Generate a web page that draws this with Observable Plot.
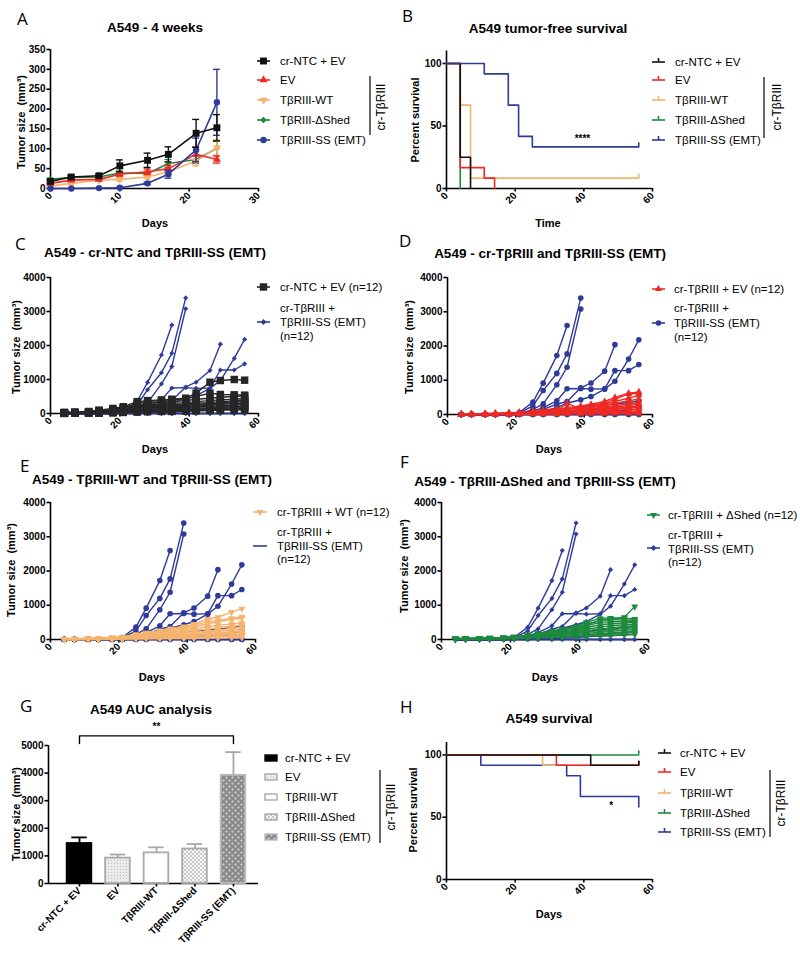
<!DOCTYPE html>
<html><head><meta charset="utf-8">
<script src="https://cdn.jsdelivr.net/npm/d3@7"></script>
<script src="https://cdn.jsdelivr.net/npm/@observablehq/plot@0.6"></script>
<style>
html,body{margin:0;padding:0;background:#fff;}
#page{position:relative;width:800px;height:956px;overflow:hidden;background:#fff;}
#page svg{position:absolute;}
</style></head><body><div id="page"></div>
<script>
// ================= DATA =================
const groupNames = ["cr-NTC + EV","EV","TβRIII-WT","TβRIII-ΔShed","TβRIII-SS (EMT)"];

// Panel A: mean tumor size (mm3) +/- SEM, first 4 weeks
const daysA   = [0,3,7,10,14,17,21,24];
const aNTC    = [18,29,32,57,71,86,139,153];
const aNTCsem = [4,4,4,15,18,19,35,33];
const aEV     = [13,21,23,36,42,50,86,73];
const aEVsem  = [3,3,3,5,7,8,18,9];
const aWT     = [6,13,21,23,29,42,69,103];
const aWTsem  = [2,3,3,4,5,6,12,20];
const aSH     = [23,28,29,39,38,63,73,101];
const aSHsem  = [3,3,3,5,5,10,10,18];
const aSS     = [0,0,1,2,13,36,97,217];
const aSSsem  = [0,0,0,1,3,10,30,83];

// Panel B: tumor-free survival (time, percent)
const bNTC_t = [0,4,7],            bNTC_s = [100,25,0];
const bEV_t  = [0,4,11,14],        bEV_s  = [100,16.7,8.3,0];
const bWT_t  = [0,4,7,56],         bWT_s  = [100,66.7,8.3,8.3];
const bSH_t  = [0,4],              bSH_s  = [100,0];
const bSS_t  = [0,11,18,21,25,56], bSS_s  = [100,91.7,66.7,41.7,33.3,33.3];
const bSig   = {t:39.6, s:40, label:"****"};

// Panels C-F: individual tumor volumes (mm3) per mouse
const daysI = [4,7,11,14,18,21,25,28,32,35,39,42,46,49,53,56];
const miceSS = [
  [0,0,0,0,10,60,360,915,1720,2600],
  [0,0,0,0,10,40,250,700,1200,1770,3400],
  [0,0,0,0,0,20,150,310,870,1380,3080],
  [0,0,0,0,10,30,100,200,400,750,760,740,750,1280,1280,1460],
  [0,0,0,0,0,20,60,150,300,380,780,920,1265,2040],
  [0,0,0,0,0,10,40,100,200,330,430,525,740,970,1620,2180],
  [0,0,0,0,0,10,30,60,100,150,200,230,280,300,350,390],
  [0,0,0,0,0,0,10,30,50,70,100,120,150,180,200,230],
  [0,0,0,0,0,0,0,10,20,40,60,80,100,110,130,150],
  [0,0,0,0,0,0,0,0,0,0,0,0,0,0,0,0],
  [0,0,0,0,0,0,0,0,0,0,0,0,0,0,0,0],
  [0,0,0]
];
const miceNTC = [
  [30,40,60,100,150,200,350,380,400,420,450,600,920,970,1000,980],
  [30,30,50,80,120,170,300,350,380,400,430,500,600,560,550,540],
  [20,30,40,70,100,150,250,300,330,350,380,420,450,480,500,520],
  [20,30,40,60,90,130,220,250,280,300,320,350,380,400,420,440],
  [20,20,30,50,80,120,200,220,240,260,280,300,320,350,370,400],
  [20,20,30,40,70,100,180,200,220,230,250,270,290,310,330,350],
  [10,20,20,30,60,90,150,170,190,200,210,230,250,270,290,300],
  [10,10,20,30,50,80,130,150,160,170,180,190,210,230,250,260],
  [10,10,20,20,40,60,100,120,130,140,150,160,170,190,200,210],
  [10,10,10,20,30,50,80,90,100,110,120,130,140,150,160,170],
  [10,10,10,20,30,40,60,70,80,80,90,100,110,120,130,140],
  [0,10,10,10,20,30,40,50,60,60,70,80,90,100,100,110]
];
const miceEV = [
  [10,20,30,40,50,60,100,130,160,200,250,300,380,500,620,660],
  [10,20,20,30,40,60,90,110,140,170,220,270,330,450,600,620],
  [10,10,20,30,40,50,80,100,120,150,200,250,300,380,480,560],
  [10,10,20,20,30,40,70,90,110,330,150,200,260,320,400,450],
  [10,10,10,20,30,40,60,80,100,120,150,180,220,260,300,350],
  [0,10,10,20,20,30,50,70,80,100,130,160,190,220,260,300],
  [0,10,10,10,20,30,40,60,70,90,110,130,160,180,220,250],
  [0,0,10,10,20,20,30,50,60,70,90,110,130,150,180,200],
  [0,0,10,10,10,20,30,40,50,60,70,80,100,120,140,150],
  [0,0,0,10,10,20,20,30,40,50,50,60,70,80,90,100],
  [0,0,0,0,10,10,20,20,30,30,40,40,50,50,60,60],
  [0,0,0,0,0,0,10,10,10,20,20,20,20,30,30,30]
];
const miceWT = [
  [10,20,30,40,60,80,150,200,260,320,380,450,600,650,800,900],
  [10,20,30,40,50,70,130,180,230,280,350,420,520,560,620,660],
  [10,10,20,30,50,70,120,160,200,250,300,380,460,520,580,620],
  [10,10,20,30,40,60,100,140,180,220,260,320,380,420,450,480],
  [10,10,20,30,40,50,90,120,150,190,230,270,310,350,380,420],
  [0,10,10,20,30,40,80,100,130,160,190,220,250,280,320,360],
  [0,10,10,20,30,40,70,90,110,130,150,180,210,240,270,300],
  [0,0,10,10,20,30,60,70,90,110,130,150,170,190,220,250],
  [0,0,10,10,20,30,50,60,70,90,100,120,140,160,180,200],
  [0,0,0,10,10,20,40,50,60,70,80,90,100,120,130,150],
  [0,0,0,0,10,10,30,30,40,50,50,60,70,80,90,100],
  [0,0,0,0,0,10,10,20,20,30,30,30,40,40,50,50]
];
const miceSH = [
  [30,30,40,50,60,80,120,180,250,300,350,450,550,600,650,960],
  [30,30,40,50,60,80,120,170,230,300,380,500,620,630,620,600],
  [20,30,30,40,50,70,110,150,210,280,340,430,560,580,570,560],
  [20,30,30,40,50,70,100,140,190,250,300,400,500,520,530,520],
  [20,20,30,40,50,60,90,130,170,220,270,350,430,460,480,500],
  [20,20,30,30,40,60,90,120,150,190,240,300,360,400,430,450],
  [20,20,30,30,40,50,80,100,130,170,210,260,310,340,380,400],
  [10,20,20,30,40,50,70,90,120,150,180,220,260,290,320,350],
  [10,20,20,30,30,40,60,80,100,120,150,180,210,240,270,300],
  [10,10,20,20,30,40,60,70,90,100,120,150,170,190,220,250],
  [10,10,20,20,30,30,50,60,70,80,100,120,140,160,180,200],
  [10,10,10,20,20,30,40,50,60,70,80,90,110,120,140,150]
];

// Panel G: AUC mean +/- SEM
const aucMean = [1450,920,1110,1250,3920];
const aucSem  = [220,130,200,180,840];
const aucSigLevel = 5350, aucSigTip = 5070, aucSigText = 5680, aucSigLabel = "**";

// Panel H: overall survival (days, percent)
const hNTC_t = [0,42,56],          hNTC_s = [100,91.7,91.7];
const hEV_t  = [0,32,56],          hEV_s  = [100,91.7,91.7];
const hWT_t  = [0,28,56],          hWT_s  = [100,91.7,91.7];
const hSH_t  = [0,56],             hSH_s  = [100,100];
const hSS_t  = [0,10,35,39,56,56], hSS_s  = [100,91.7,83.3,66.7,66.7,58.3];
const hSig   = {t:48, s:59, label:"*"};

// ================= STYLE =================
const FONT = "'Liberation Sans', Arial, Helvetica, sans-serif";
const COL = {ntc:"#111111", ev:"#ee2a24", wt:"#f5b36d", sh:"#1d8a3e", ss:"#2f3b98"};
const triDown = {draw(ctx,size){const y=Math.sqrt(size/(Math.sqrt(3)*3));ctx.moveTo(0,2*y);ctx.lineTo(-Math.sqrt(3)*y,-y);ctx.lineTo(Math.sqrt(3)*y,-y);ctx.closePath();}};
const plain = d => String(d);

const page = document.getElementById("page");

// hidden defs for patterns
const defsSvg = d3.select(page).append("svg").attr("width",0).attr("height",0).style("left","0px").style("top","0px");
const defs = defsSvg.append("defs");
{
  const p1 = defs.append("pattern").attr("id","patEV").attr("width",3).attr("height",3).attr("patternUnits","userSpaceOnUse");
  p1.append("rect").attr("width",3).attr("height",3).attr("fill","#ebebeb");
  p1.append("rect").attr("width",1).attr("height",1).attr("fill","#bdbdbd");
  const p2 = defs.append("pattern").attr("id","patSH").attr("width",4).attr("height",4).attr("patternUnits","userSpaceOnUse");
  p2.append("rect").attr("width",4).attr("height",4).attr("fill","#f6f6f6");
  p2.append("rect").attr("width",2).attr("height",2).attr("fill","#c9c9c9");
  p2.append("rect").attr("x",2).attr("y",2).attr("width",2).attr("height",2).attr("fill","#c9c9c9");
  const p3 = defs.append("pattern").attr("id","patSS").attr("width",6).attr("height",6).attr("patternUnits","userSpaceOnUse");
  p3.append("rect").attr("width",6).attr("height",6).attr("fill","#8a8a8a");
  p3.append("path").attr("d","M1.5,0L3,1.5L1.5,3L0,1.5Z M4.5,3L6,4.5L4.5,6L3,4.5Z").attr("fill","#c2c2c2");
}

function panel(c){
  const svg = Plot.plot({
    width:c.W, height:c.H,
    marginLeft:c.x0-c.L, marginRight:c.L+c.W-c.x1, marginTop:c.y1-c.T, marginBottom:c.T+c.H-c.y0,
    x:{domain:c.xDomain}, y:{domain:c.yDomain},
    style:{fontFamily:FONT,fontSize:"10px",fontWeight:"bold",background:"transparent",overflow:"visible",color:"#000"},
    marks:[
      Plot.ruleX([c.xDomain[0]],{strokeWidth:1.6}),
      Plot.ruleY([c.yDomain[0]],{strokeWidth:1.6}),
      Plot.axisY({ticks:c.yTicks,tickSize:3.5,tickPadding:1.5,label:null,strokeWidth:1.6,tickFormat:plain}),
      Plot.axisX({ticks:c.xTicks,tickSize:3.5,tickPadding:2,tickRotate:-45,label:null,strokeWidth:1.6,tickFormat:c.xTickFormat||plain}),
      ...c.marks
    ]
  });
  svg.style.position="absolute"; svg.style.left=c.L+"px"; svg.style.top=c.T+"px";
  page.appendChild(svg);
}

// ---------- Panel A ----------
function meanRows(m,s){ return daysA.map((d,i)=>({day:d, v:m[i], lo:m[i]-s[i], hi:m[i]+s[i], s:s[i]})); }
const aGroups = [
  {rows:meanRows(aSH,aSHsem), col:COL.sh, sym:"diamond2", r:2.6},
  {rows:meanRows(aWT,aWTsem), col:COL.wt, sym:triDown, r:3},
  {rows:meanRows(aEV,aEVsem), col:COL.ev, sym:"triangle", r:3},
  {rows:meanRows(aSS,aSSsem), col:COL.ss, sym:"circle", r:3.2},
  {rows:meanRows(aNTC,aNTCsem), col:COL.ntc, sym:"square", r:3.9}
];
panel({L:0,T:40,W:275,H:175,x0:50,x1:258,y0:188,y1:49,xDomain:[0,30],yDomain:[0,350],
  xTicks:[0,10,20,30], yTicks:[0,50,100,150,200,250,300,350],
  marks: aGroups.flatMap(g=>{
    const e = g.rows.filter(d=>d.s>0);
    return [
      Plot.ruleX(e,{x:"day",y1:"lo",y2:"hi",stroke:g.col,strokeWidth:1.4}),
      Plot.ruleY(e,{y:"hi",x1:d=>d.day-0.5,x2:d=>d.day+0.5,stroke:g.col,strokeWidth:1.4}),
      Plot.ruleY(e,{y:"lo",x1:d=>d.day-0.5,x2:d=>d.day+0.5,stroke:g.col,strokeWidth:1.4}),
      Plot.line(g.rows,{x:"day",y:"v",stroke:g.col,strokeWidth:1.6}),
      Plot.dot(g.rows,{x:"day",y:"v",symbol:g.sym,r:g.r,fill:g.col,stroke:"none"})
    ];
  })
});

// ---------- Survival helper ----------
function survRows(t,s){ return t.map((d,i)=>({t:d,s:s[i]})); }
function survMarks(list){
  return list.flatMap(g=>{
    const rows = survRows(g.t,g.s);
    const m = [Plot.line(rows,{x:"t",y:"s",curve:"step-after",stroke:g.col,strokeWidth:1.6})];
    if (g.censor){ const last = rows[rows.length-1]; m.push(Plot.ruleX([last],{x:"t",y1:"s",y2:"s",insetTop:-4,stroke:g.col,strokeWidth:1.6})); }
    return m;
  });
}

// ---------- Panel B ----------
panel({L:400,T:40,W:260,H:175,x0:446,x1:652,y0:188,y1:50.5,xDomain:[0,60],yDomain:[0,110],
  xTicks:[0,20,40,60], yTicks:[0,50,100],
  marks:[
    ...survMarks([
      {t:bSH_t,s:bSH_s,col:COL.sh},
      {t:bWT_t,s:bWT_s,col:COL.wt,censor:true},
      {t:bEV_t,s:bEV_s,col:COL.ev},
      {t:bNTC_t,s:bNTC_s,col:COL.ntc},
      {t:bSS_t,s:bSS_s,col:COL.ss,censor:true}
    ]),
    Plot.text([bSig],{x:"t",y:"s",text:"label",fontSize:10,fontWeight:"bold"})
  ]
});

// ---------- Panels C-F ----------
function mouseRows(mice,key){ return mice.flatMap((vals,m)=>vals.map((v,i)=>({m:key+m, day:daysI[i], v}))); }
function miceMarks(mice,key,col,sym,r){
  const rows = mouseRows(mice,key);
  return [
    Plot.line(rows,{x:"day",y:"v",z:"m",stroke:col,strokeWidth:1.4}),
    Plot.dot(rows,{x:"day",y:"v",symbol:sym,r:r,fill:col,stroke:"none"})
  ];
}
const yT4 = [0,1000,2000,3000,4000], xT6 = [0,20,40,60];
panel({L:0,T:265,W:270,H:175,x0:50,x1:258,y0:413,y1:277,xDomain:[0,60],yDomain:[0,4000],xTicks:xT6,yTicks:yT4,
  marks:[...miceMarks(miceSS,"ss",COL.ss,"diamond2",2.3), ...miceMarks(miceNTC,"ntc","#262626","square",4.2)]});
panel({L:400,T:265,W:260,H:175,x0:447,x1:652,y0:414,y1:277,xDomain:[0,60],yDomain:[0,4000],xTicks:xT6,yTicks:yT4,
  marks:[...miceMarks(miceSS,"ss",COL.ss,"circle",2.8), ...miceMarks(miceEV,"ev",COL.ev,"triangle",2.6)]});
panel({L:0,T:490,W:270,H:175,x0:50,x1:255,y0:639,y1:502,xDomain:[0,60],yDomain:[0,4000],xTicks:xT6,yTicks:yT4,
  marks:[...miceMarks(miceSS,"ss",COL.ss,"circle",2.8), ...miceMarks(miceWT,"wt",COL.wt,triDown,2.6)]});
panel({L:400,T:490,W:260,H:175,x0:441,x1:648,y0:639,y1:502,xDomain:[0,60],yDomain:[0,4000],xTicks:xT6,yTicks:yT4,
  marks:[...miceMarks(miceSS,"ss",COL.ss,"diamond2",2.3), ...miceMarks(miceSH,"sh",COL.sh,triDown,2.6)]});

// ---------- Panel G ----------
const gRows = groupNames.map((n,i)=>({i, n, v:aucMean[i], hi:aucMean[i]+aucSem[i]}));
const barFill   = ["#000000","url(#patEV)","#ffffff","url(#patSH)","url(#patSS)"];
const barStroke = ["#000000","#a8a8a8","#a8a8a8","#a8a8a8","#bcbcbc"];
const errStroke = ["#000000","#a8a8a8","#a8a8a8","#a8a8a8","#a8a8a8"];
const sigRows = [
  {i:0,y:aucSigTip},{i:0,y:aucSigLevel},{i:4,y:aucSigLevel},{i:4,y:aucSigTip}
];
panel({L:0,T:725,W:270,H:231,x0:48,x1:258,y0:883,y1:745,xDomain:[-0.805,4.65],yDomain:[0,5000],
  xTicks:[0,1,2,3,4], yTicks:[0,1000,2000,3000,4000,5000], xTickFormat:i=>groupNames[i],
  marks:[
    ...gRows.flatMap((d,k)=>[
      Plot.ruleX([d],{x:"i",y1:"v",y2:"hi",stroke:errStroke[k],strokeWidth:1.8}),
      Plot.ruleY([d],{y:"hi",x1:e=>e.i-0.2,x2:e=>e.i+0.2,stroke:errStroke[k],strokeWidth:1.8}),
      Plot.rectY([d],{x1:e=>e.i-0.32,x2:e=>e.i+0.32,y:"v",fill:barFill[k],stroke:barStroke[k],strokeWidth:1.8})
    ]),
    Plot.line(sigRows,{x:"i",y:"y",stroke:"#000",strokeWidth:1.4}),
    Plot.text([{i:2,y:aucSigText,label:aucSigLabel}],{x:"i",y:"y",text:"label",fontSize:10,fontWeight:"bold"})
  ]
});

// ---------- Panel H ----------
panel({L:400,T:730,W:260,H:175,x0:446,x1:652,y0:879,y1:742,xDomain:[0,60],yDomain:[0,110],
  xTicks:[0,20,40,60], yTicks:[0,50,100],
  marks:[
    ...survMarks([
      {t:hSH_t,s:hSH_s,col:COL.sh,censor:true},
      {t:hSS_t,s:hSS_s,col:COL.ss},
      {t:hWT_t,s:hWT_s,col:COL.wt,censor:true},
      {t:hEV_t,s:hEV_s,col:COL.ev,censor:true},
      {t:hNTC_t,s:hNTC_s,col:COL.ntc,censor:true}
    ]),
    Plot.text([hSig],{x:"t",y:"s",text:"label",fontSize:10,fontWeight:"bold"})
  ]
});

// ================= OVERLAY TEXT / LEGENDS =================
const ov = d3.select(page).append("svg").attr("width",800).attr("height",956)
  .style("left","0px").style("top","0px").style("font-family",FONT).style("pointer-events","none");

function T(x,y,s,o={}){
  const t = ov.append("text").text(s)
    .attr("font-size",o.size||11.5).attr("font-weight",o.weight||"normal")
    .attr("text-anchor",o.anchor||"start").style("white-space","pre").attr("fill","#000");
  if (o.family) t.attr("font-family",o.family);
  if (o.rot){ t.attr("transform",`translate(${x},${y}) rotate(${o.rot})`).attr("dominant-baseline","central"); }
  else t.attr("x",x).attr("y",y);
  return t;
}
function letter(x,y,s){ T(x,y,s,{size:17,family:"'Open Sans', sans-serif"}); }
function title(x,y,s){ T(x,y,s,{size:13.5,weight:"bold",anchor:"middle"}); }
function ytitle(x,y,s){ T(x,y,s,{size:11,weight:"bold",anchor:"middle",rot:-90}); }
function xtitle(x,y,s){ T(x,y,s,{size:11,weight:"bold",anchor:"middle"}); }
function legItem(x1,x2,y,col,sym,r,censor){
  ov.append("line").attr("x1",x1).attr("x2",x2).attr("y1",y).attr("y2",y).attr("stroke",col).attr("stroke-width",1.6);
  const cx=(x1+x2)/2;
  if (sym){
    const type = typeof sym === "string" ? {circle:d3.symbolCircle,square:d3.symbolSquare,triangle:d3.symbolTriangle,diamond2:d3.symbolSquare}[sym] : sym;
    const p = ov.append("path").attr("d",d3.symbol(type, Math.PI*r*r)()).attr("fill",col);
    p.attr("transform", sym==="diamond2" ? `translate(${cx},${y}) rotate(45)` : `translate(${cx},${y})`);
  }
  if (censor) ov.append("line").attr("x1",cx).attr("x2",cx).attr("y1",y).attr("y2",y-4).attr("stroke",col).attr("stroke-width",1.6);
}
function bracket(x,y1,y2,tx,ty){
  ov.append("line").attr("x1",x).attr("x2",x).attr("y1",y1).attr("y2",y2).attr("stroke","#000").attr("stroke-width",1.2);
  T(tx,ty,"cr-TβRIII",{size:12,anchor:"middle",rot:-90});
}

// Panel A
letter(17,25,"A"); title(155,32,"A549 - 4 weeks");
ytitle(21,122,"Tumor size  (mm³)"); xtitle(155,227,"Days");
{
  const ys=[61,80,100,120,140];
  const syms=[["square",3.9,COL.ntc],["triangle",3,COL.ev],[triDown,3,COL.wt],["diamond2",2.6,COL.sh],["circle",3.2,COL.ss]];
  ys.forEach((y,i)=>{ legItem(257,270,y,syms[i][2],syms[i][0],syms[i][1]); T(280,y+4,groupNames[i]); });
  bracket(370,76,135,381,107);
}
// Panel B
letter(402,22,"B"); title(548,33,"A549 tumor-free survival");
ytitle(415,120,"Percent survival"); xtitle(548,227,"Time");
{
  const ys=[62,80,100,120,140], cols=[COL.ntc,COL.ev,COL.wt,COL.sh,COL.ss];
  ys.forEach((y,i)=>{ legItem(652,665,y,cols[i],null,0,true); T(675,y+4,groupNames[i]); });
  bracket(764,77,138,777,107);
}
// Panel C
letter(15,250,"C"); title(155,257,"A549 - cr-NTC and TβRIII-SS (EMT)");
ytitle(16,347,"Tumor size  (mm³)"); xtitle(155,453,"Days");
legItem(257,270,287,"#262626","square",4.2); T(280,291,"cr-NTC + EV (n=12)");
legItem(257,270,322,COL.ss,"diamond2",2.3); T(280,312,"cr-TβRIII +"); T(280,326,"TβRIII-SS (EMT)"); T(280,340,"(n=12)");
// Panel D
letter(399,247,"D"); title(550,258,"A549 - cr-TβRIII and TβRIII-SS (EMT)");
ytitle(409,347,"Tumor size  (mm³)"); xtitle(549,453,"Days");
legItem(652,665,289,COL.ev,"triangle",2.6); T(674,293,"cr-TβRIII + EV (n=12)");
legItem(652,665,323,COL.ss,"circle",2.8); T(674,312,"cr-TβRIII +"); T(674,327,"TβRIII-SS (EMT)"); T(674,341,"(n=12)");
// Panel E
letter(20,472,"E"); title(152,484,"A549 - TβRIII-WT and TβRIII-SS (EMT)");
ytitle(11,570,"Tumor size  (mm³)"); xtitle(152,681,"Days");
legItem(253,267,512,COL.wt,triDown,2.6); T(277,516,"cr-TβRIII + WT (n=12)");
legItem(253,267,546,COL.ss,null,0); T(277,536,"cr-TβRIII +"); T(277,550,"TβRIII-SS (EMT)"); T(277,563,"(n=12)");
// Panel F
letter(400,468,"F"); title(545,486,"A549 - TβRIII-ΔShed and TβRIII-SS (EMT)");
ytitle(404,566,"Tumor size  (mm³)"); xtitle(545,681,"Days");
legItem(647,660,515,COL.sh,triDown,2.6); T(668,519,"cr-TβRIII + ΔShed (n=12)");
legItem(647,660,548,COL.ss,"diamond2",2.3); T(668,539,"cr-TβRIII +"); T(668,553,"TβRIII-SS (EMT)"); T(668,566,"(n=12)");
// Panel G
letter(20,712,"G"); title(151,714,"A549 AUC analysis");
ytitle(16,814,"Tumor size  (mm³)");
{
  const ys=[758,777,797,817,837];
  ys.forEach((y,i)=>{
    ov.append("rect").attr("x",265).attr("y",y-3).attr("width",12).attr("height",6)
      .attr("fill",barFill[i]).attr("stroke",barStroke[i]).attr("stroke-width",1.4);
    T(285,y+4,groupNames[i]);
  });
  bracket(380,770,843,391,807);
}
// Panel H
letter(400,713,"H"); title(549,723,"A549 survival");
ytitle(413,810,"Percent survival"); xtitle(549,918,"Days");
{
  const ys=[753,772,793,813,832], cols=[COL.ntc,COL.ev,COL.wt,COL.sh,COL.ss];
  ys.forEach((y,i)=>{ legItem(658,671,y,cols[i],null,0,true); T(680,y+4,groupNames[i]); });
  bracket(770,770,837,781,803);
}
</script>
</body></html>
